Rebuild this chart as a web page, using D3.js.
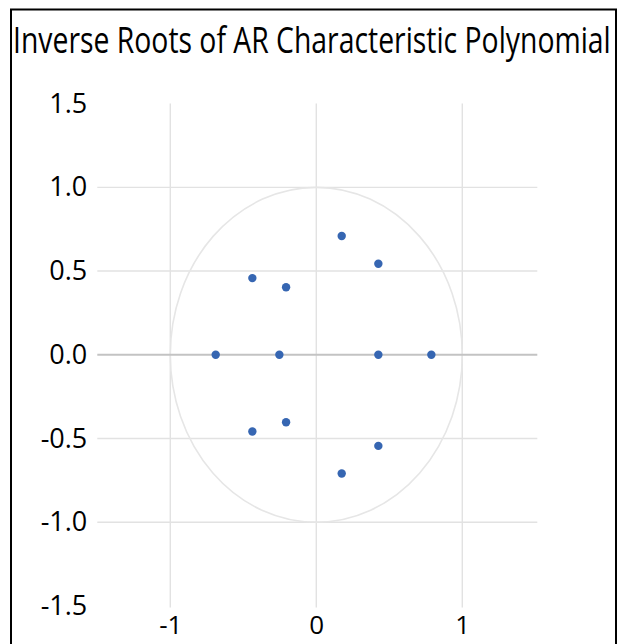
<!DOCTYPE html>
<html>
<head>
<meta charset="utf-8">
<script src="https://cdn.jsdelivr.net/npm/d3@7"></script>
<style>
  html, body { margin: 0; padding: 0; background: #fff; }
  svg { display: block; }
  text { font-family: "Open Sans", "Noto Sans", sans-serif; fill: #000; }
</style>
</head>
<body>
<svg id="chart" width="623" height="644"></svg>
<script>
// ---- data ----
const title = "Inverse Roots of AR Characteristic Polynomial";
const realParts = [-0.689, -0.253, 0.425, 0.788, -0.438, -0.438, -0.207, -0.207, 0.174, 0.174, 0.425, 0.425];
const imagParts = [0, 0, 0, 0, 0.458, -0.458, 0.403, -0.403, 0.709, -0.709, 0.544, -0.544];
const xTickValues = [-1, 0, 1];
const yTickValues = [-1.5, -1, -0.5, 0, 0.5, 1, 1.5];
const unitRadius = 1;

// ---- layout ----
const svg = d3.select("#chart");
const x = d3.scaleLinear().domain([-1.5, 1.5]).range([97.3, 535.3]);
const y = d3.scaleLinear().domain([-1.5, 1.5]).range([606, 103.6]);
const hyphen = f => (d => f(d).replace("\u2212", "-"));

// border
svg.append("rect")
  .attr("x", 11).attr("y", 9.5)
  .attr("width", 605).attr("height", 660)
  .attr("fill", "none").attr("stroke", "#000").attr("stroke-width", 2);

// title (condensed horizontally to the reference's width)
const titleG = svg.append("g");
const titleText = titleG.append("text")
  .attr("x", 0).attr("y", 0)
  .attr("font-size", 37)
  .text(title);
const naturalW = titleText.node().getComputedTextLength();
titleG.attr("transform", `translate(13,53) scale(${598 / naturalW},1)`);

// gridlines
const g = svg.append("g");
g.selectAll("line.h").data(yTickValues.filter(v => v !== 0 && Math.abs(v) < 1.5))
  .join("line").attr("class", "h")
  .attr("x1", x(-1.5)).attr("x2", x(1.5) + 2)
  .attr("y1", d => y(d)).attr("y2", d => y(d))
  .attr("stroke", "#e2e2e2").attr("stroke-width", 1.4);
g.selectAll("line.v").data(xTickValues)
  .join("line").attr("class", "v")
  .attr("x1", d => x(d)).attr("x2", d => x(d))
  .attr("y1", y(1.5)).attr("y2", y(-1.5) + 1.5)
  .attr("stroke", "#e2e2e2").attr("stroke-width", 1.4);

// unit circle
g.append("ellipse")
  .attr("cx", x(0)).attr("cy", y(0))
  .attr("rx", x(unitRadius) - x(0)).attr("ry", y(0) - y(unitRadius))
  .attr("fill", "none").attr("stroke", "#e6e6e6").attr("stroke-width", 1.6);

// zero line
g.append("line")
  .attr("x1", x(-1.5)).attr("x2", x(1.5) + 2)
  .attr("y1", y(0)).attr("y2", y(0))
  .attr("stroke", "#c3c3c3").attr("stroke-width", 2);

// axes
const yAxis = d3.axisLeft(y).tickValues(yTickValues).tickFormat(hyphen(d3.format(".1f"))).tickSize(0).tickPadding(10);
const ya = svg.append("g").attr("transform", `translate(${x(-1.5)},0)`).call(yAxis);
ya.select(".domain").remove();
ya.selectAll("text").attr("font-size", 27).attr("fill", "#000")
  .style("font-family", '"Open Sans", "Noto Sans", sans-serif');

const xAxis = d3.axisBottom(x).tickValues(xTickValues).tickFormat(hyphen(d3.format("d"))).tickSize(0).tickPadding(10);
const xa = svg.append("g").attr("transform", `translate(0,${y(-1.5)})`).call(xAxis);
xa.select(".domain").remove();
xa.selectAll("text").attr("font-size", 26).attr("fill", "#000")
  .style("font-family", '"Open Sans", "Noto Sans", sans-serif');

// points
svg.append("g").selectAll("circle").data(realParts.map((r, i) => [r, imagParts[i]]))
  .join("circle")
  .attr("cx", d => x(d[0])).attr("cy", d => y(d[1]))
  .attr("r", 4.2)
  .attr("fill", "#3666b2");
</script>
</body>
</html>
